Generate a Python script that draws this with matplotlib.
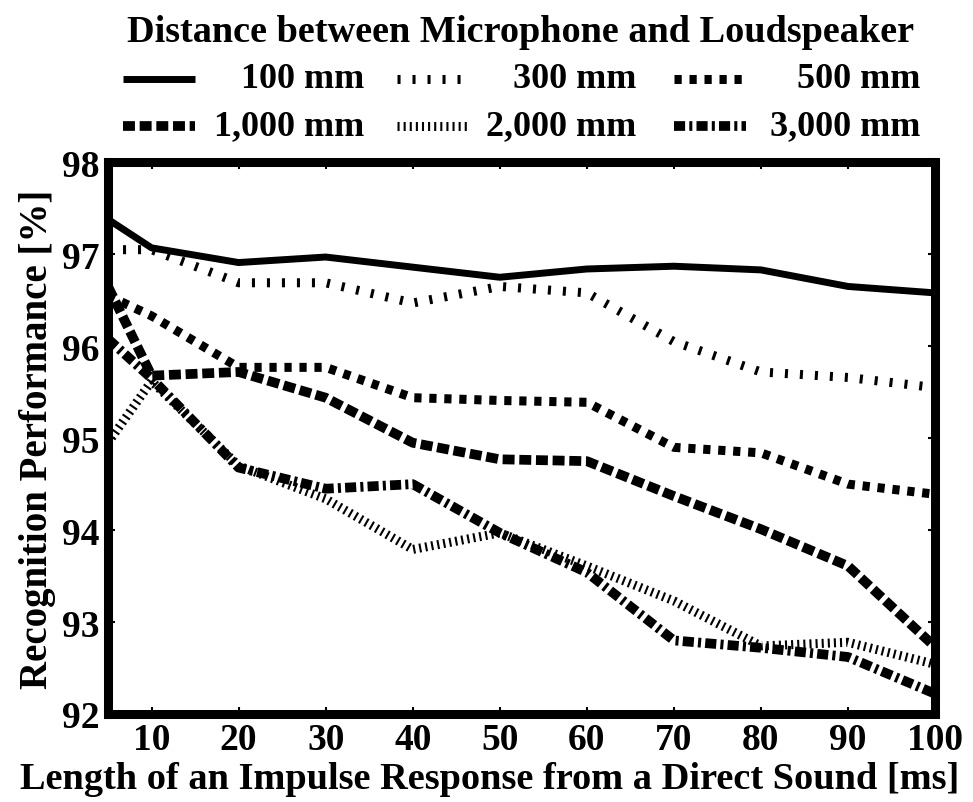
import numpy as np
import matplotlib
matplotlib.use("Agg")
import matplotlib.pyplot as plt
from matplotlib.lines import Line2D

plt.rcParams["font.family"] = ["Liberation Serif", "DejaVu Serif"]
plt.rcParams["font.weight"] = "bold"
plt.rcParams["lines.scale_dashes"] = False

# impulse response length [ms]
lengths = [5, 10, 20, 30, 40, 50, 60, 70, 80, 90, 100]

# recognition performance [%] per microphone-loudspeaker distance
perf_100 = [97.38, 97.07, 96.91, 96.97, 96.86, 96.75, 96.84, 96.87, 96.83, 96.65, 96.58]
perf_300 = [97.05, 97.05, 96.69, 96.69, 96.47, 96.65, 96.58, 96.05, 95.72, 95.66, 95.55]
perf_500 = [96.55, 96.33, 95.77, 95.77, 95.44, 95.41, 95.39, 94.90, 94.84, 94.50, 94.39]
perf_1000 = [96.65, 95.68, 95.72, 95.44, 94.95, 94.77, 94.75, 94.37, 94.01, 93.61, 92.73]
perf_2000 = [94.95, 95.62, 94.70, 94.34, 93.79, 93.97, 93.61, 93.23, 92.74, 92.78, 92.54]
perf_3000 = [96.08, 95.65, 94.68, 94.45, 94.50, 93.97, 93.54, 92.80, 92.72, 92.62, 92.22]

labels = ["100 mm", "300 mm", "500 mm", "1,000 mm", "2,000 mm", "3,000 mm"]
series = [perf_100, perf_300, perf_500, perf_1000, perf_2000, perf_3000]

# line width [pt] and dash pattern [pt] for each distance
styles = [
    dict(lw=5.0, ls="-"),
    dict(lw=6.5, dashes=(2.2, 8.6)),
    dict(lw=6.5, dashes=(5.2, 5.6)),
    dict(lw=7.0, dashes=(8.6, 3.4)),
    dict(lw=6.5, dashes=(1.5, 2.9)),
    dict(lw=7.0, dashes=(8.0, 3.0, 2.2, 3.0)),
]

W, H = 973, 803
fig = plt.figure(figsize=(9.73, 8.03), dpi=100)
ax = fig.add_axes([0.111, 0.1096, 0.85, 0.687])

for vals, st in zip(series, styles):
    ax.plot(lengths, vals, color="black", solid_capstyle="butt", **st)

ax.set_xlim(5, 100)
ax.set_ylim(92, 98)
ax.set_xticks(range(10, 101, 10))
ax.set_yticks(range(92, 99))
ax.tick_params(direction="in", length=5, width=1.5, top=True, right=True,
               labelsize=27, pad=6)
for sp in ax.spines.values():
    sp.set_linewidth(6.5)

ax.set_ylabel("Recognition Performance [%]", fontsize=28, fontweight="bold",
              labelpad=4)
# x label sits a little left of the axes centre so it fits the figure width
fig.text(490 / W, 1 - 780 / H,
         "Length of an Impulse Response from a Direct Sound [ms]",
         ha="center", va="center", fontsize=27.6, fontweight="bold")

# legend drawn by hand: handle on the left, label right-aligned in each column
fig.text(0.535, 0.96, "Distance between Microphone and Loudspeaker",
         ha="center", va="center", fontsize=27.5, fontweight="bold")
col_handle = [(123, 195), (397, 470), (674, 746)]
col_right = [364, 636, 920]
row_y = [80, 127]
for i, (lab, st) in enumerate(zip(labels, styles)):
    r, c = divmod(i, 3)
    x0, x1 = col_handle[c]
    y = 1 - row_y[r] / H
    fig.add_artist(Line2D([x0 / W, x1 / W], [y, y], color="black",
                          transform=fig.transFigure, solid_capstyle="butt", **st))
    fig.text(col_right[c] / W, y, lab, ha="right", va="center",
             fontsize=26, fontweight="bold")

fig.savefig("out.png", dpi=100)
